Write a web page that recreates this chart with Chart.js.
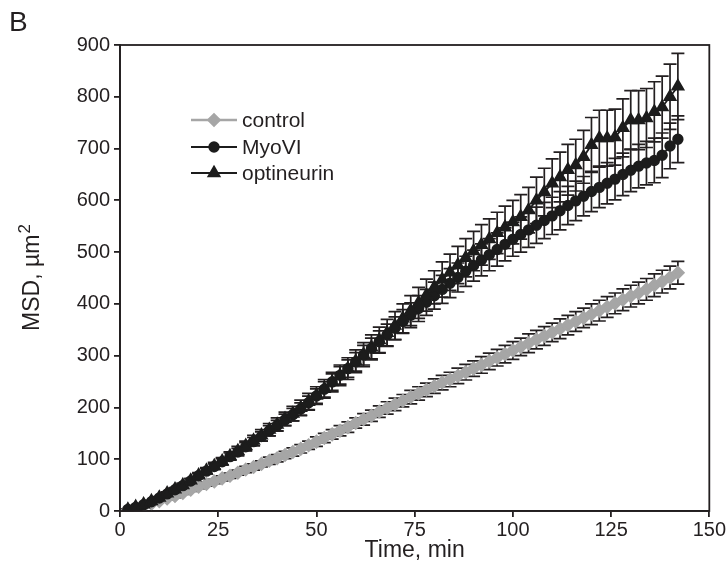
<!DOCTYPE html>
<html>
<head>
<meta charset="utf-8">
<script src="https://cdn.jsdelivr.net/npm/chart.js@4.4.0/dist/chart.umd.min.js"></script>
<style>
  html, body { margin: 0; padding: 0; background: #fff; }
  #wrap { width: 727px; height: 564px; }
</style>
</head>
<body>
<div id="wrap"><canvas id="msdChart"></canvas></div>
<script>
// Tempo (min) e MSD (um^2)
const timeMin = [2,4,6,8,10,12,14,16,18,20,22,24,26,28,30,32,34,36,38,40,42,44,46,48,50,52,54,56,58,60,
  62,64,66,68,70,72,74,76,78,80,82,84,86,88,90,92,94,96,98,100,102,104,106,108,110,112,114,116,118,120,
  122,124,126,128,130,132,134,136,138,140,142];

const controlMsd = [2,5,9,14,19,24,29,35,41,47,52,57,63,68,74,80,85,91,97,102,108,114,120,127,134,141,148,155,162,170,
  177,184,192,199,206,213,220,227,234,241,248,254,261,268,275,282,289,296,303,310,317,324,331,338,345,352,359,366,373,380,
  387,394,401,408,415,421,428,436,443,451,460];
const controlErr = [1,1,1,2,2,2,3,3,3,4,4,4,5,5,5,6,6,6,7,7,7,8,8,8,9,9,9,10,10,10,
  11,11,11,12,12,12,13,13,13,14,14,14,15,15,15,16,16,16,17,17,17,18,18,18,18,19,19,19,19,20,
  20,20,20,21,21,21,21,22,22,22,22];

const myoviMsd = [3,7,12,18,25,33,41,49,58,68,77,86,95,105,114,124,134,144,155,165,176,186,197,209,222,235,249,262,275,288,
  301,314,327,340,353,366,378,391,403,416,428,440,451,463,474,485,495,505,515,525,534,543,552,561,570,580,590,599,608,617,
  625,633,641,650,658,666,672,677,687,705,718];
const myoviErr = [1,1,1,1,2,2,3,3,4,4,5,5,6,7,7,8,8,9,10,10,11,12,12,13,14,15,16,17,17,18,
  19,20,21,21,22,23,24,25,25,26,27,28,28,29,30,31,31,32,32,33,34,34,35,35,36,37,37,38,38,39,
  39,40,40,41,41,42,42,43,43,44,45];

const optineurinMsd = [3,8,13,19,26,34,42,50,59,69,78,87,96,106,116,126,136,146,157,167,178,188,199,211,223,236,249,262,275,289,
  302,316,330,344,358,372,387,402,417,432,447,461,475,489,502,514,525,537,548,558,568,581,600,616,633,645,659,668,684,707,
  720,720,722,740,755,755,759,771,780,800,820];
const optineurinErr = [1,1,1,1,2,3,3,4,4,5,6,7,7,8,9,9,10,11,12,13,13,14,15,16,17,18,19,20,21,22,
  23,24,25,26,27,28,29,30,31,32,34,35,36,37,38,39,39,40,41,42,43,44,45,46,47,48,49,50,51,53,
  54,54,54,56,57,57,57,58,60,63,64];

const xTicks = [0, 25, 50, 75, 100, 125, 150];
const yTicks = [0, 100, 200, 300, 400, 500, 600, 700, 800, 900];

const INK = '#231f20';
const GRAY = '#a6a6a6';
const FONT = "'Liberation Sans', Arial, Helvetica, sans-serif";

const toPoints = (vals) => vals.map((v, i) => ({ x: timeMin[i], y: v }));

// barras de erro (desenhadas antes dos marcadores)
const errorBarPlugin = {
  id: 'errorBars',
  beforeDatasetsDraw(chart) {
    const { ctx, scales: { x, y } } = chart;
    ctx.save();
    ctx.strokeStyle = INK;
    ctx.lineWidth = 1.7;
    chart.data.datasets.forEach(ds => {
      ds.data.forEach((p, i) => {
        const e = ds.errors[i];
        const px = x.getPixelForValue(p.x);
        const top = y.getPixelForValue(p.y + e);
        const bot = y.getPixelForValue(p.y - e);
        ctx.beginPath();
        ctx.moveTo(px, top); ctx.lineTo(px, bot);
        ctx.moveTo(px - 6.5, top); ctx.lineTo(px + 6.5, top);
        ctx.moveTo(px - 6.5, bot); ctx.lineTo(px + 6.5, bot);
        ctx.stroke();
      });
    });
    ctx.restore();
  }
};

// moldura, legenda, letra do painel e titulo do eixo y
const decorPlugin = {
  id: 'decor',
  afterDraw(chart) {
    const { ctx, chartArea: a } = chart;
    ctx.save();
    ctx.strokeStyle = INK;
    ctx.lineWidth = 1.8;
    ctx.strokeRect(a.left, a.top, a.right - a.left, a.bottom - a.top);

    // legenda
    const rows = [120, 147, 173];
    chart.data.datasets.forEach((ds, i) => {
      const yy = rows[i];
      ctx.strokeStyle = ds.borderColor;
      ctx.fillStyle = ds.backgroundColor;
      ctx.lineWidth = ds.borderWidth;
      ctx.beginPath();
      ctx.moveTo(191, yy); ctx.lineTo(237, yy);
      ctx.stroke();
      Chart.helpers.drawPoint(ctx, {
        pointStyle: ds.pointStyle, radius: ds.pointRadius, rotation: 0, borderWidth: 1
      }, 214, yy);
      ctx.fillStyle = INK;
      ctx.font = '21px ' + FONT;
      ctx.textBaseline = 'middle';
      ctx.textAlign = 'left';
      ctx.fillText(ds.label, 242, yy + 1);
    });

    // letra B
    ctx.fillStyle = INK;
    ctx.font = '28px ' + FONT;
    ctx.textBaseline = 'alphabetic';
    ctx.fillText('B', 9, 31);

    // titulo do eixo y com expoente
    ctx.translate(31, (a.top + a.bottom) / 2);
    ctx.rotate(-Math.PI / 2);
    ctx.font = '23px ' + FONT;
    const main = 'MSD, \u00b5m';
    const w1 = ctx.measureText(main).width;
    ctx.font = '17px ' + FONT;
    const w2 = ctx.measureText('2').width;
    const start = -(w1 + w2) / 2;
    ctx.font = '23px ' + FONT;
    ctx.textBaseline = 'alphabetic';
    ctx.fillText(main, start, 8);
    ctx.font = '17px ' + FONT;
    ctx.fillText('2', start + w1 + 1, -1);
    ctx.restore();
  }
};

document.addEventListener('DOMContentLoaded', function () {
  const ctx = document.getElementById('msdChart');

  new Chart(ctx, {
    type: 'line',
    data: {
      datasets: [
        {
          label: 'control',
          data: toPoints(controlMsd),
          errors: controlErr,
          borderColor: GRAY,
          backgroundColor: GRAY,
          pointStyle: 'rectRot',
          pointRadius: 5.5,
          borderWidth: 2.5,
          order: 3
        },
        {
          label: 'MyoVI',
          data: toPoints(myoviMsd),
          errors: myoviErr,
          borderColor: '#1c1c1c',
          backgroundColor: '#1c1c1c',
          pointStyle: 'circle',
          pointRadius: 4.8,
          borderWidth: 1.8,
          order: 2
        },
        {
          label: 'optineurin',
          data: toPoints(optineurinMsd),
          errors: optineurinErr,
          borderColor: '#1c1c1c',
          backgroundColor: '#1c1c1c',
          pointStyle: 'triangle',
          pointRadius: 6.5,
          borderWidth: 1.8,
          order: 1
        }
      ]
    },
    options: {
      responsive: true,
      maintainAspectRatio: false,
      animation: false,
      layout: { padding: { top: 45, right: 17, left: 0, bottom: 0 } },
      plugins: {
        legend: { display: false },
        tooltip: { enabled: false }
      },
      elements: { point: { hoverRadius: 0 } },
      scales: {
        x: {
          type: 'linear',
          min: 0,
          max: 150,
          afterFit: (s) => { s.height = 53; },
          afterBuildTicks: (s) => { s.ticks = xTicks.map(v => ({ value: v })); },
          ticks: { color: INK, font: { size: 20, family: FONT }, padding: 1, maxRotation: 0 },
          grid: { display: true, drawOnChartArea: false, drawTicks: true, tickLength: 6, color: INK, lineWidth: 1.8 },
          border: { display: true, color: INK, width: 1.8 },
          title: { display: true, text: 'Time, min', color: INK, font: { size: 23, family: FONT }, padding: { top: 0, bottom: 0 } }
        },
        y: {
          type: 'linear',
          min: 0,
          max: 900,
          afterFit: (s) => { s.width = 120; },
          afterBuildTicks: (s) => { s.ticks = yTicks.map(v => ({ value: v })); },
          ticks: { color: INK, font: { size: 20, family: FONT }, padding: 4 },
          grid: { display: true, drawOnChartArea: false, drawTicks: true, tickLength: 6, color: INK, lineWidth: 1.8 },
          border: { display: true, color: INK, width: 1.8 }
        }
      }
    },
    plugins: [errorBarPlugin, decorPlugin]
  });
});
</script>
</body>
</html>
